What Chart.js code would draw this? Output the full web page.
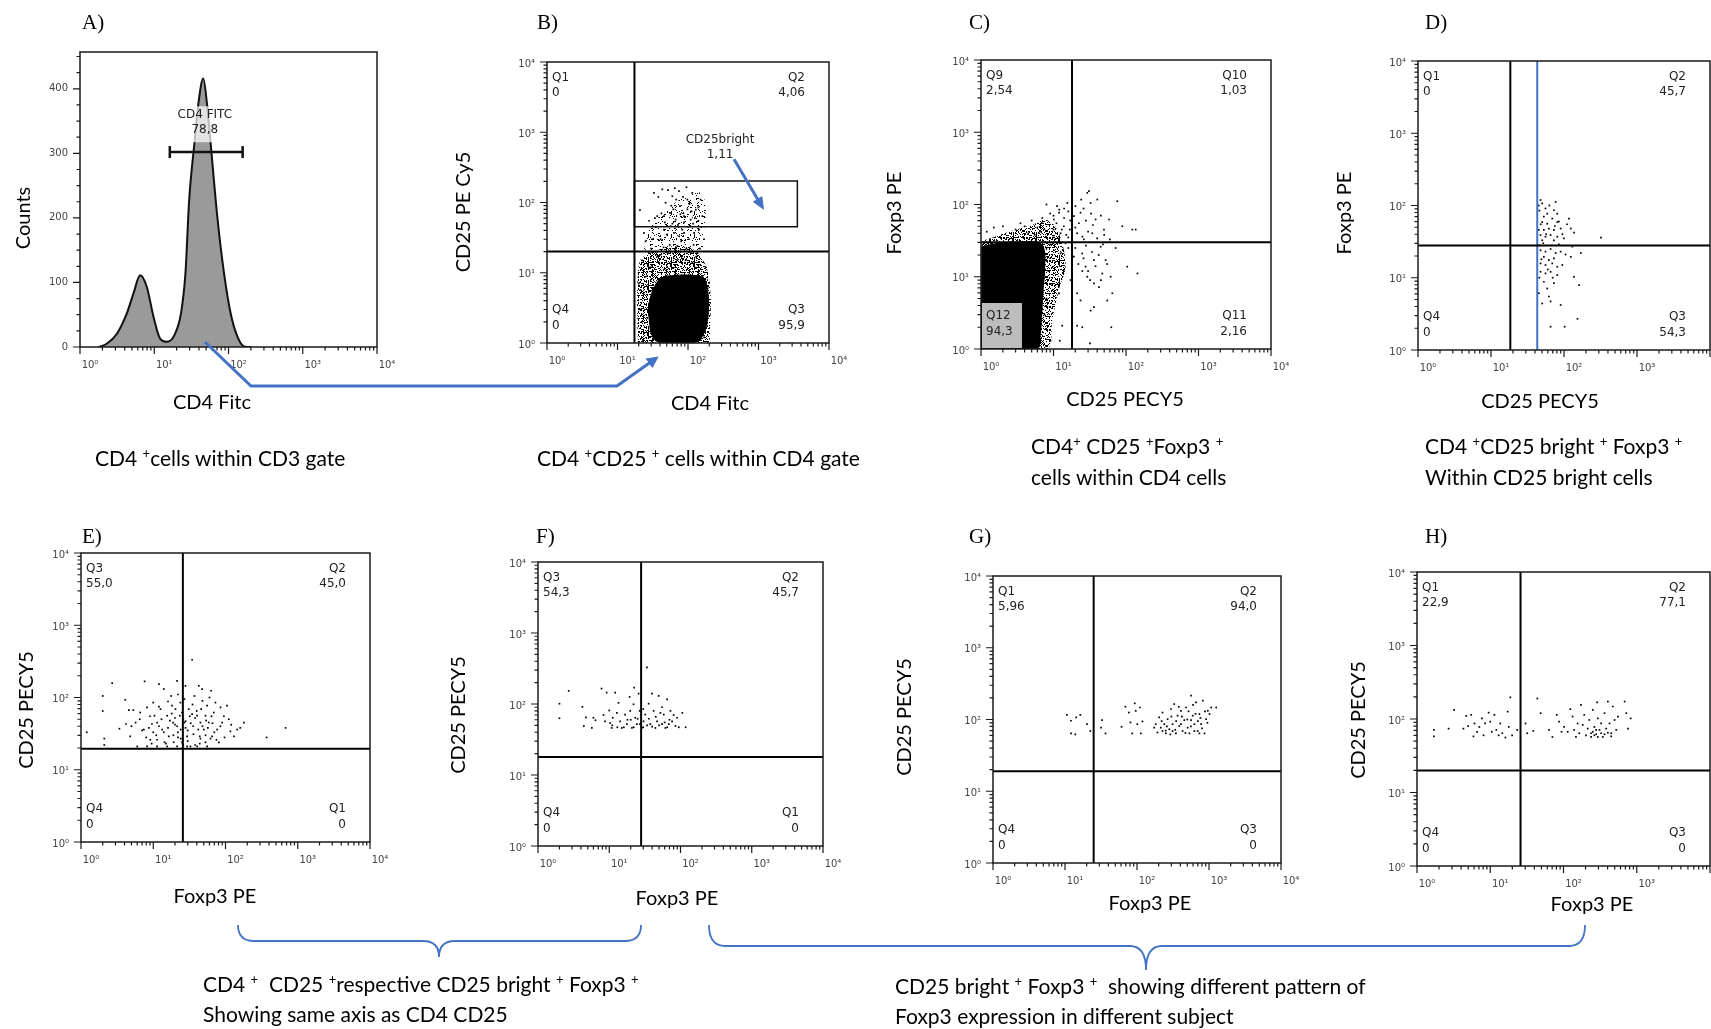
<!DOCTYPE html>
<html>
<head>
<meta charset="utf-8">
<title>CD4 / CD25 / Foxp3 gating</title>
<script src="https://cdn.jsdelivr.net/npm/chart.js@4.4.1/dist/chart.umd.min.js"></script>
<style>
  body { margin: 0; width: 1711px; height: 1029px; overflow: hidden; background: #fff; position: relative; font-family: Lato, "Open Sans", sans-serif; color: #000; }
  canvas { position: absolute; }
  svg { position: absolute; left: 0; top: 0; }
  .txt { position: absolute; white-space: nowrap; transform: translateY(-50%); font-size: 20px; line-height: 1; }
  .cap { font-size: 21px; }
  .letter { font-family: "Liberation Serif", "DejaVu Serif", serif; font-size: 21px; }
  .ctr { transform: translate(-50%, -50%); }
  .rot { transform: translate(-50%, -50%) rotate(-90deg); }
  sup { font-size: 0.62em; vertical-align: 0.55em; line-height: 0; }
</style>
</head>
<body>
<canvas id="chA"></canvas>
<canvas id="chB"></canvas>
<canvas id="chC"></canvas>
<canvas id="chD"></canvas>
<canvas id="chE"></canvas>
<canvas id="chF"></canvas>
<canvas id="chG"></canvas>
<canvas id="chH"></canvas>

<svg width="1711" height="1029">
  <defs>
    <marker id="tip" markerWidth="4" markerHeight="4" refX="2.5" refY="2" orient="auto">
      <path d="M0,0 L4,2 L0,4 z" fill="#4472C4"/>
    </marker>
  </defs>
  <polyline points="205,342 251,386 617,386 655,359" fill="none" stroke="#4472C4" stroke-width="3" marker-end="url(#tip)"/>
  <path d="M238,925 Q238,941 254,941 L423,941 Q439,941 439,957 Q439,941 455,941 L625,941 Q641,941 641,925" fill="none" stroke="#4472C4" stroke-width="1.8"/>
  <path d="M709,925 Q709,946 725,946 L1130,946 Q1146,946 1146,970 Q1146,946 1162,946 L1569,946 Q1585,946 1585,925" fill="none" stroke="#4472C4" stroke-width="1.8"/>
</svg>

<div class="txt letter" style="left:82px;top:22px">A)</div>
<div class="txt letter" style="left:537px;top:22px">B)</div>
<div class="txt letter" style="left:969px;top:22px">C)</div>
<div class="txt letter" style="left:1425px;top:22px">D)</div>
<div class="txt letter" style="left:82px;top:536px">E)</div>
<div class="txt letter" style="left:536px;top:536px">F)</div>
<div class="txt letter" style="left:969px;top:536px">G)</div>
<div class="txt letter" style="left:1425px;top:536px">H)</div>

<div class="txt rot" style="left:22px;top:218px">Counts</div>
<div class="txt ctr" style="left:212px;top:401px">CD4 Fitc</div>
<div class="txt rot" style="left:462px;top:212px">CD25 PE Cy5</div>
<div class="txt ctr" style="left:710px;top:402px">CD4 Fitc</div>
<div class="txt rot" style="left:893px;top:213px">Foxp3 PE</div>
<div class="txt ctr" style="left:1125px;top:398px">CD25 PECY5</div>
<div class="txt rot" style="left:1343px;top:213px">Foxp3 PE</div>
<div class="txt ctr" style="left:1540px;top:400px">CD25 PECY5</div>
<div class="txt rot" style="left:25px;top:710px">CD25 PECY5</div>
<div class="txt ctr" style="left:215px;top:895px">Foxp3 PE</div>
<div class="txt rot" style="left:457px;top:715px">CD25 PECY5</div>
<div class="txt ctr" style="left:677px;top:897px">Foxp3 PE</div>
<div class="txt rot" style="left:903px;top:717px">CD25 PECY5</div>
<div class="txt ctr" style="left:1150px;top:902px">Foxp3 PE</div>
<div class="txt rot" style="left:1357px;top:720px">CD25 PECY5</div>
<div class="txt ctr" style="left:1592px;top:903px">Foxp3 PE</div>

<div class="txt cap" style="left:95px;top:457px">CD4 <sup>+</sup>cells within CD3 gate</div>
<div class="txt cap" style="left:537px;top:457px">CD4 <sup>+</sup>CD25 <sup>+</sup> cells within CD4 gate</div>
<div class="txt cap" style="left:1031px;top:445px">CD4<sup>+</sup> CD25 <sup>+</sup>Foxp3 <sup>+</sup></div>
<div class="txt cap" style="left:1031px;top:476px">cells within CD4 cells</div>
<div class="txt cap" style="left:1425px;top:445px">CD4 <sup>+</sup>CD25 bright <sup>+</sup> Foxp3 <sup>+</sup></div>
<div class="txt cap" style="left:1425px;top:476px">Within CD25 bright cells</div>
<div class="txt cap" style="left:203px;top:983px">CD4 <sup>+</sup>&nbsp; CD25 <sup>+</sup>respective CD25 bright <sup>+</sup> Foxp3 <sup>+</sup></div>
<div class="txt cap" style="left:203px;top:1013px">Showing same axis as CD4 CD25</div>
<div class="txt cap" style="left:895px;top:985px">CD25 bright <sup>+</sup> Foxp3 <sup>+</sup>&nbsp; showing different pattern of</div>
<div class="txt cap" style="left:895px;top:1015px">Foxp3 expression in different subject</div>

<script>
// tick labels shared by all log axes
const decadeTicks = [1, 10, 100, 1000, 10000];
const decadeLabels = ['10⁰', '10¹', '10²', '10³', '10⁴'];
const countTicks = [0, 100, 200, 300, 400];

// A) CD4 FITC histogram
const aFluor = [1.78, 2.29, 3.16, 4.27, 5.25, 6.46, 7.94, 9.77, 12.0, 14.8, 18.6, 22.9, 26.3, 29.5, 34.7, 39.8, 45.7, 51.3, 57.5, 70.8, 87.1, 107, 132, 162, 200];
const aCounts = [0, 5, 21, 52, 83, 111, 93, 47, 13, 8, 18, 52, 114, 227, 315, 382, 416, 377, 315, 201, 114, 52, 16, 1, 0];
const aGate = [[16.2, 302], [155, 302]];
const aGateText = ['CD4 FITC', '78,8'];

// B) CD25 vs CD4
const bQuads = [['Q1', '0'], ['Q2', '4,06'], ['Q4', '0'], ['Q3', '95,9']];
const bCut = [17.4, 20];
const bBrightGate = [[17.4, 45], [3560, 45], [3560, 203], [17.4, 203], [17.4, 45]];
const bBrightText = ['CD25bright', '1,11'];
const bArrow = [[450, 414], [1200, 78]];
const bCore = [[31.1, 5.7], [40.8, 8.4], [63.1, 9.3], [122, 9.3], [169, 8.4], [192, 5.7], [199, 3.3], [188, 1.9], [160, 1.22], [122, 1.0], [40.8, 1.0], [31.1, 1.22], [27.8, 2.1], [27.8, 3.7], [31.1, 5.7]];
const bHalo = [[19.4, 1.0], [19.0, 5.7], [21.2, 15.3], [32.8, 20.1], [56.6, 23.7], [109, 22.5], [151, 17.1], [188, 11], [210, 4.6], [205, 1.7], [188, 1.0], [19.4, 1.0]];
const bHaloUpper = [[23.7, 21.3], [29.4, 45.8], [45.5, 71.3], [78.5, 111], [151, 138], [178, 88.7], [169, 41.1], [151, 21.3], [23.7, 21.3]];
const bDots = [[20.8, 78], [23.7, 37], [27.9, 19], [29.5, 12], [32.9, 137], [36.6, 64], [40.9, 30], [43.2, 154], [45.6, 41], [48.1, 99], [52, 19], [55.5, 71], [59.9, 123], [63.2, 37], [66.8, 57], [70.5, 24], [74.5, 145], [76.9, 89], [83, 41], [87.7, 64], [92.6, 15], [97.9, 110], [103, 30], [109, 57], [115, 137], [122, 37], [129, 79], [136, 19], [143, 41], [151, 110], [160, 64], [169, 30], [178, 12], [148, 22], [22.4, 15], [25, 8.8], [21.2, 5.7], [199, 7.1], [188, 5.1], [23.7, 1.4], [169, 1.2], [45.6, 64], [56.7, 46], [36.6, 17], [87.7, 37], [70.5, 15], [50.8, 12], [31.1, 30], [115, 14],
  [30, 22], [40, 18], [55, 25], [65, 20], [80, 28], [95, 22], [120, 25], [35, 45], [60, 50], [100, 45], [75, 33], [25, 28], [45, 23], [130, 17], [110, 20], [50, 35],
  [21, 3], [22, 2], [20, 7], [180, 3], [190, 6], [170, 2], [160, 9], [23, 1.1], [150, 1.1], [100, 1.05], [60, 1.05], [35, 1.1],
  [28, 55], [42, 70], [58, 90], [68, 110], [85, 120], [105, 95], [125, 60], [140, 85], [38, 120], [52, 150], [65, 160], [95, 165], [47, 52], [72, 48], [88, 52], [112, 75], [34, 60], [62, 80], [78, 68], [98, 80], [118, 50], [140, 55]];

// C) Foxp3 vs CD25 within CD4
const cQuads = [['Q9', '2,54'], ['Q10', '1,03'], ['Q12', '94,3'], ['Q11', '2,16']];
const cCut = [18, 30];
const cCore = [[1.0, 26.2], [1.58, 29.2], [2.98, 30.7], [5.6, 30.7], [7.3, 26.2], [7.7, 13.8], [7.3, 6.5], [7.0, 3.1], [6.6, 1.45], [5.9, 1.0], [1.0, 1.0], [1.0, 26.2]];
const cHalo = [[1.0, 30.7], [1.58, 36.1], [2.98, 44.8], [5.1, 52.5], [7.7, 61.7], [10.6, 49.8], [13.2, 29.2], [14.7, 13.8], [11.8, 6.5], [9.6, 2.5], [8.2, 1.0], [1.0, 1.0], [1.0, 30.7]];
const cDots = [[10.1, 62], [11.2, 95], [11.9, 77], [12.5, 40], [13.9, 50], [14.7, 29], [15.5, 105], [16.8, 45], [19.1, 69], [20.1, 95], [21.2, 40], [22.4, 55], [23.6, 77], [24.1, 117], [24.9, 21], [26.2, 33], [27.7, 13.8], [29.2, 145], [30.8, 153], [32.5, 105], [34.3, 40], [36.1, 17], [38.1, 62], [40.2, 117], [42.4, 7.2], [44.7, 26], [47.1, 11.1], [49.7, 45], [52.4, 17], [55.2, 4.7], [58.2, 62], [61.4, 10], [64.7, 5.9], [71.9, 25], [75.9, 111], [88.9, 50], [104, 13.8], [122, 45], [144, 11.1], [136, 45], [21.2, 5.9], [23.6, 4.7], [29.2, 10], [36.1, 8.1], [32.5, 3.4], [19.1, 19], [17.2, 9], [13.2, 2.1], [21.2, 2.1], [24.9, 2.0], [36.1, 3.8], [62.7, 2.0], [31.8, 1.2], [12.2, 1.3], [9.1, 1.3], [12.5, 21], [13.9, 12.4], [11.9, 5.9],
  [18, 35], [20, 48], [25, 36], [28, 60], [30, 42], [35, 52], [40, 34], [45, 70], [26, 88], [33, 75], [50, 38], [60, 33], [17, 60], [16, 80], [14, 65], [9, 75], [8, 100], [7, 55], [6, 48], [5, 60], [4, 50], [3, 45], [10, 45], [12, 34],
  [20, 25], [22, 15], [26, 18], [30, 12], [34, 22], [38, 14], [42, 20], [48, 28], [55, 15], [28, 27], [32, 9], [45, 9], [25, 12], [18, 14], [16, 25],
  [8, 25], [9, 18], [8.5, 12], [9.5, 8], [8, 5], [7.5, 3], [9, 28], [10, 35], [6.5, 42], [2, 50], [1.5, 48], [3.5, 55], [1.2, 42],
  [11, 55], [13, 45], [15, 38], [10, 70], [12, 85], [7, 65], [5.5, 38], [4.5, 40], [14, 88], [16, 35]];

// D) Foxp3 vs CD25 within CD25 bright
const dQuads = [['Q1', '0'], ['Q2', '45,7'], ['Q4', '0'], ['Q3', '54,3']];
const dCut = [18.4, 28];
const dBrightCut = 43;
const dDots = [[47.7, 119], [50.3, 107], [76.8, 112], [55.8, 91], [58.9, 77], [72.8, 86], [80.9, 77], [53, 70], [69.1, 66], [50.3, 59], [58.9, 56], [80.9, 59], [117, 66], [45.2, 46], [53, 46], [62.1, 48], [72.8, 46], [90, 48], [124, 48], [137, 42], [47.7, 39], [55.8, 37], [65.5, 39], [80.9, 37], [100, 35], [50.3, 33], [72.8, 33], [321, 36], [130, 27], [47.7, 24], [55.8, 23], [65.5, 25], [76.8, 22], [90, 23], [105, 21], [170, 22], [53, 19.5], [62.1, 17.5], [72.8, 18.5], [124, 19.5], [47.7, 15.8], [55.8, 15], [69.1, 15.8], [80.9, 14.2], [94.8, 15], [47.7, 12.1], [55.8, 11.5], [65.5, 12.1], [80.9, 10.9], [137, 10.3], [53, 8.8], [72.8, 8.4], [161, 7.9], [45.2, 6.1], [58.9, 7.1], [62.1, 5.5], [50.3, 4.4], [65.5, 4.7], [90, 4.2], [153, 2.7], [65.5, 2.1], [102, 2.1],
  [46, 85], [48, 55], [52, 30], [46, 28], [49, 18], [57, 40], [63, 100], [68, 28], [75, 52], [85, 29], [95, 40], [110, 55], [46, 10], [60, 13], [70, 10], [45, 100], [85, 60]];

// E) CD25 vs Foxp3 (CD4+ CD25+)
const eQuads = [['Q3', '55,0'], ['Q2', '45,0'], ['Q4', '0'], ['Q1', '0']];
const eCut = [25.7, 19.6];
const eDots = [[1.2, 33], [2.0, 105], [2.0, 65], [2.1, 27], [2.1, 22], [2.7, 158], [3.4, 37], [4.1, 93], [4.2, 43], [4.6, 67], [4.8, 29], [5.3, 67], [5.7, 45], [6.0, 21], [6.6, 62], [7.6, 167], [8.2, 73], [8.7, 38], [9.1, 26], [10, 85], [10.4, 56], [11.3, 45], [12, 153], [12.6, 69], [13.3, 36], [14, 131], [14.3, 24], [15.6, 56], [16.4, 29], [17.7, 105], [18.8, 45], [19.2, 24], [20.3, 69], [21.4, 170], [21.9, 33], [23.3, 56], [23.8, 85], [25.1, 24], [27, 45], [27.9, 145], [29.4, 29], [31, 69], [32.7, 21], [34.5, 333], [35.6, 40], [37.2, 105], [40.5, 56], [42.7, 145], [44, 29], [46, 69], [47.5, 131], [50, 36], [52.8, 24], [55.7, 77], [58.7, 45], [63.3, 124], [65.3, 29], [68.9, 62], [72.6, 85], [76.7, 36], [80.9, 24], [85.3, 73], [90, 45], [96.9, 28], [105, 77], [111, 50], [117, 34], [131, 29], [145, 36], [180, 45], [370, 28], [678, 38],
  [8.2, 21], [11.3, 21], [15.6, 21], [21.4, 21], [29.4, 21], [40.5, 21], [55.7, 21], [11.3, 26], [7.4, 36], [9.6, 43], [18.2, 77], [21.4, 40], [34.5, 59], [45, 45], [52.8, 56],
  [12, 40], [14, 33], [16, 38], [17, 48], [19, 30], [20, 42], [22, 28], [24, 36], [26, 50], [28, 38], [30, 25], [33, 44], [36, 31], [38, 52], [42, 36], [44, 23], [48, 40], [53, 30], [57, 38], [62, 27], [66, 44], [70, 33], [75, 26], [11, 30], [13, 50], [15, 23], [9, 55], [8, 28], [6.5, 50], [7, 35], [5, 40], [18, 60], [25, 62], [32, 55], [40, 65], [35, 80], [27, 95], [22, 110], [48, 90], [60, 100], [16, 88], [12, 75], [10, 33], [9.5, 23], [26, 22], [38, 22], [45, 27], [54, 48], [64, 55], [85, 40], [95, 55], [120, 42], [160, 38], [30, 35], [28, 47], [24, 27], [20, 52]];

// F) CD25 bright vs Foxp3
const fQuads = [['Q3', '54,3'], ['Q2', '45,7'], ['Q4', '0'], ['Q1', '0']];
const fCut = [28, 18];
const fDots = [[2.0, 101], [2.0, 63], [2.7, 153], [4.2, 91], [4.4, 49], [4.7, 65], [5.7, 46], [6.0, 64], [6.4, 59], [7.8, 165], [8.3, 70], [8.7, 57], [9.2, 145], [10, 81], [10.3, 54], [10.8, 46], [11.2, 64], [12.1, 145], [12.8, 75], [13.5, 104], [14.2, 57], [15, 46], [16.7, 71], [17.7, 52], [19.3, 126], [19.7, 80], [20.8, 46], [21.9, 99], [22.4, 170], [23.2, 64], [24.4, 52], [25.8, 140], [26.7, 80], [28.8, 46], [30.3, 57], [32, 71], [33.8, 327], [35.7, 101], [37.7, 52], [39.8, 140], [42, 80], [44.4, 46], [46.9, 57], [49.4, 130], [52.2, 75], [55.1, 52], [58.2, 71], [61.4, 46], [64.9, 116], [68.4, 52], [72.3, 80], [76.2, 57], [85, 49], [89.7, 64], [94.7, 47], [106, 75], [118, 47],
  [11, 50], [13, 47], [16, 47], [18, 60], [22, 47], [25, 62], [27, 52], [30, 47], [34, 50], [36, 62], [40, 48], [45, 66], [50, 50], [60, 55], [70, 60], [80, 70], [65, 47], [55, 90], [30, 85], [20, 60]];

// G) subject with high Foxp3
const gQuads = [['Q1', '5,96'], ['Q2', '94,0'], ['Q4', '0'], ['Q3', '0']];
const gCut = [25, 19];
const gDots = [[10.6, 116], [12.1, 96], [14.3, 107], [16.3, 116], [12.1, 64], [13.9, 62], [20.2, 86], [22.5, 69], [32.7, 98], [31.7, 77], [36.5, 64], [61, 79], [69, 151], [77, 125], [81, 91], [86, 64], [93, 168], [96, 132], [101, 86], [110, 147], [113, 64], [119, 94], [182, 86], [192, 66], [203, 107], [214, 77], [226, 125], [239, 86], [252, 64], [266, 101], [281, 73], [296, 140], [312, 86], [329, 164], [347, 64], [366, 113], [387, 81], [408, 132], [430, 69], [454, 98], [480, 147], [506, 77], [534, 64], [563, 215], [594, 113], [627, 86], [661, 173], [698, 69], [736, 119], [777, 86], [820, 183], [865, 64], [913, 101], [963, 132], [1016, 119], [1072, 147], [1259, 147], [173, 77], [226, 69], [312, 69], [408, 86], [563, 98], [627, 69], [736, 64],
  [220, 95], [260, 80], [300, 110], [350, 95], [420, 110], [500, 100], [560, 80], [650, 120], [700, 95], [800, 75], [250, 70], [340, 72], [470, 65], [600, 160], [520, 130], [380, 150], [290, 62], [760, 105], [880, 130], [950, 90]];

// H) subject with mixed Foxp3
const hQuads = [['Q1', '22,9'], ['Q2', '77,1'], ['Q4', '0'], ['Q3', '0']];
const hCut = [25.9, 19.9];
const hDots = [[1.7, 71], [1.7, 58], [2.7, 74], [3.2, 133], [4.3, 74], [4.7, 110], [5.0, 80], [5.5, 114], [5.9, 58], [6.1, 87], [6.6, 67], [7.1, 78], [7.7, 102], [8.1, 60], [8.5, 87], [9.5, 122], [10, 92], [10.5, 67], [11.4, 114], [12.1, 71], [13, 60], [13.7, 87], [14.6, 64], [16.1, 56], [17.3, 126], [17.9, 78], [18.8, 197], [19.9, 60], [23.3, 71], [30.3, 87], [32, 64], [38.7, 69], [43.9, 190], [48.8, 120], [63.5, 71], [70.6, 57], [81, 114], [87, 92], [94, 67], [102, 78], [114, 67], [124, 136], [133, 108], [140, 71], [148, 57], [156, 87], [164, 64], [173, 156], [183, 83], [192, 114], [203, 60], [214, 74], [225, 97], [238, 64], [251, 133], [264, 78], [279, 62], [288, 168], [294, 102], [310, 71], [326, 87], [344, 57], [363, 120], [383, 74], [403, 173], [425, 87], [448, 64], [472, 148], [498, 97], [525, 71], [553, 108], [684, 173], [721, 120], [760, 74], [826, 102], [238, 57], [264, 60], [294, 57], [326, 64], [363, 62], [403, 65], [448, 58], [251, 67], [279, 71]];

// plot frames on the page: left, top, right, bottom of each chart area
const frames = {
  A: { l: 80, t: 52, r: 377, b: 347 },
  B: { l: 547, t: 62, r: 829, b: 343 },
  C: { l: 981, t: 60, r: 1271, b: 349 },
  D: { l: 1418, t: 61, r: 1710, b: 350 },
  E: { l: 81, t: 553, r: 370, b: 842 },
  F: { l: 538, t: 562, r: 823, b: 846 },
  G: { l: 993, t: 576, r: 1281, b: 863 },
  H: { l: 1417, t: 572, r: 1710, b: 866 }
};

const BLUE = '#4472C4';
const pts = arr => arr.map(([x, y]) => ({ x, y }));

// grainy texture for the speckled fringe of the dense populations
function speckle(pct) {
  const n = 23;
  const tile = document.createElement('canvas');
  tile.width = tile.height = n;
  const c = tile.getContext('2d');
  c.fillStyle = '#000';
  for (let i = 0; i < n; i++) {
    for (let j = 0; j < n; j++) {
      const h = ((i * 2654435761) ^ (j * 40503 + i * j * 977)) >>> 0;
      if (h % 100 < pct) c.fillRect(i, j, 1, 1);
    }
  }
  return c.createPattern(tile, 'repeat');
}

const dots = arr => ({
  data: pts(arr), showLine: false,
  pointStyle: 'rect', pointRadius: 1.2, backgroundColor: '#000', borderWidth: 0
});

const cloud = (arr, fillStyle, tension = 0.3) => ({
  data: pts(arr), showLine: true, fill: 'shape', tension,
  backgroundColor: fillStyle, borderColor: 'rgba(0,0,0,0)', borderWidth: 1, pointRadius: 0
});

const rule = (arr, color = '#000', width = 2) => ({
  data: pts(arr), showLine: true, fill: false,
  borderColor: color, borderWidth: width, pointRadius: 0
});

const quadLines = ([cx, cy]) => [
  rule([[cx, 1], [cx, 10000]]),
  rule([[1, cy], [10000, cy]])
];

// keep the axis boxes a fixed size so the plot area lands where it should
const fixX = s => { s.height = 34; s.paddingLeft = 0; s.paddingRight = 0; };
const fixY = s => { s.width = 60; s.paddingTop = 0; s.paddingBottom = 0; };

function logAxis(isX) {
  return {
    type: 'logarithmic', min: 1, max: 10000,
    afterBuildTicks: s => { s.ticks = decadeTicks.map(v => ({ value: v })); },
    ticks: {
      autoSkip: false, maxRotation: 0, color: '#444',
      font: { family: 'DejaVu Sans', size: 10 },
      padding: 12,
      labelOffset: isX ? 10 : 2,
      callback: v => decadeLabels[decadeTicks.indexOf(v)]
    },
    grid: { display: false, drawTicks: false },
    border: { display: false },
    afterFit: isX ? fixX : fixY
  };
}

const countAxis = {
  type: 'linear', min: 0, max: 457,
  afterBuildTicks: s => { s.ticks = countTicks.map(v => ({ value: v })); },
  ticks: {
    color: '#444', font: { family: 'DejaVu Sans', size: 10 }, padding: 12,
    callback: v => String(v)
  },
  grid: { display: false, drawTicks: false },
  border: { display: false },
  afterFit: fixY
};

// frame, tick marks, quadrant labels, gate labels and arrows
function makeDecor(d) {
  return {
    id: 'flowDecor',
    afterDatasetsDraw(chart) {
      const { ctx, chartArea: a } = chart;
      const sx = chart.scales.x, sy = chart.scales.y;
      ctx.save();

      ctx.strokeStyle = '#1a1a1a';
      ctx.lineWidth = 1.5;
      ctx.strokeRect(a.left, a.top, a.right - a.left, a.bottom - a.top);

      ctx.lineWidth = 1.2;
      ctx.beginPath();
      for (let dec = 1; dec <= 10000; dec *= 10) {
        for (let m = 1; m <= 9 && dec * m <= 10000; m++) {
          const len = m === 1 ? 7 : 3.5;
          const px = sx.getPixelForValue(dec * m);
          ctx.moveTo(px, a.bottom);
          ctx.lineTo(px, a.bottom + len);
          if (!d.countAxis) {
            const py = sy.getPixelForValue(dec * m);
            ctx.moveTo(a.left, py);
            ctx.lineTo(a.left - len, py);
          }
        }
      }
      if (d.countAxis) {
        for (let v = 0; v <= 450; v += 25) {
          const py = sy.getPixelForValue(v);
          ctx.moveTo(a.left, py);
          ctx.lineTo(a.left - (v % 100 ? 3.5 : 7), py);
        }
      }
      ctx.stroke();

      ctx.font = "12px 'DejaVu Sans'";
      ctx.textBaseline = 'middle';

      if (d.quads) {
        const [tl, tr, bl, br] = d.quads;
        if (d.quadBg) {
          ctx.fillStyle = 'rgba(255,255,255,0.74)';
          ctx.fillRect(a.left + 1, a.bottom - 46, 40, 45);
        }
        ctx.fillStyle = '#222';
        ctx.textAlign = 'left';
        ctx.fillText(tl[0], a.left + 5, a.top + 16);
        ctx.fillText(tl[1], a.left + 5, a.top + 31);
        ctx.fillText(bl[0], a.left + 5, a.bottom - 33);
        ctx.fillText(bl[1], a.left + 5, a.bottom - 17.5);
        ctx.textAlign = 'right';
        ctx.fillText(tr[0], a.right - 24, a.top + 16);
        ctx.fillText(tr[1], a.right - 24, a.top + 31);
        ctx.fillText(br[0], a.right - 24, a.bottom - 33);
        ctx.fillText(br[1], a.right - 24, a.bottom - 17.5);
      }

      (d.notes || []).forEach(n => {
        const px = sx.getPixelForValue(n.x);
        const py = sy.getPixelForValue(n.y);
        ctx.textAlign = 'center';
        if (n.bg) {
          const w = Math.max(...n.lines.map(t => ctx.measureText(t).width));
          ctx.fillStyle = 'rgba(255,255,255,0.72)';
          ctx.fillRect(px - w / 2, py - 9, w, n.lines.length * 15 + 6);
        }
        ctx.fillStyle = '#222';
        n.lines.forEach((t, i) => ctx.fillText(t, px, py + i * 15));
      });

      (d.arrows || []).forEach(([p, q]) => {
        const x1 = sx.getPixelForValue(p[0]), y1 = sy.getPixelForValue(p[1]);
        const x2 = sx.getPixelForValue(q[0]), y2 = sy.getPixelForValue(q[1]);
        const ang = Math.atan2(y2 - y1, x2 - x1);
        const c = Math.cos(ang), s = Math.sin(ang);
        ctx.strokeStyle = BLUE;
        ctx.fillStyle = BLUE;
        ctx.lineWidth = 3;
        ctx.beginPath();
        ctx.moveTo(x1, y1);
        ctx.lineTo(x2 - 8 * c, y2 - 8 * s);
        ctx.stroke();
        ctx.beginPath();
        ctx.moveTo(x2, y2);
        ctx.lineTo(x2 - 13 * c + 5.5 * s, y2 - 13 * s - 5.5 * c);
        ctx.lineTo(x2 - 13 * c - 5.5 * s, y2 - 13 * s + 5.5 * c);
        ctx.closePath();
        ctx.fill();
      });

      ctx.restore();
    }
  };
}

function flowChart(id, box, datasets, decor, yAxis) {
  const cv = document.getElementById(id);
  const w = box.r - box.l + 84, h = box.b - box.t + 46;
  cv.width = w;
  cv.height = h;
  Object.assign(cv.style, {
    left: (box.l - 60) + 'px', top: (box.t - 12) + 'px',
    width: w + 'px', height: h + 'px'
  });
  return new Chart(cv, {
    type: 'scatter',
    data: { datasets },
    options: {
      responsive: false,
      animation: false,
      events: [],
      layout: { padding: { top: 12, right: 24, left: 0, bottom: 0 } },
      plugins: { legend: { display: false }, tooltip: { enabled: false } },
      scales: { x: logAxis(true), y: yAxis || logAxis(false) }
    },
    plugins: [makeDecor(decor)]
  });
}

// A
flowChart('chA', frames.A, [
  {
    data: pts(aGate), showLine: true, fill: false,
    borderColor: '#111', borderWidth: 2.5,
    pointStyle: 'line', rotation: 90, pointRadius: 6,
    pointBorderColor: '#111', pointBorderWidth: 2.5
  },
  {
    data: aFluor.map((x, i) => ({ x, y: aCounts[i] })),
    showLine: true, fill: 'origin', cubicInterpolationMode: 'monotone',
    backgroundColor: '#9a9a9a', borderColor: '#111', borderWidth: 2, pointRadius: 0
  }
], { countAxis: true, notes: [{ x: 48, y: 359, lines: aGateText, bg: true }] }, countAxis);

// B
flowChart('chB', frames.B, [
  ...quadLines(bCut),
  rule(bBrightGate, '#111', 1.5),
  dots(bDots),
  cloud(bCore, '#000', 0.4),
  cloud(bHalo, speckle(38)),
  cloud(bHaloUpper, speckle(12))
], { quads: bQuads, notes: [{ x: 285, y: 780, lines: bBrightText }], arrows: [bArrow] });

// C
flowChart('chC', frames.C, [
  ...quadLines(cCut),
  dots(cDots),
  cloud(cCore, '#000', 0.4),
  cloud(cHalo, speckle(34))
], { quads: cQuads, quadBg: true });

// D
flowChart('chD', frames.D, [
  ...quadLines(dCut),
  rule([[dBrightCut, 1], [dBrightCut, 10000]], BLUE, 2),
  dots(dDots)
], { quads: dQuads });

// E
flowChart('chE', frames.E, [...quadLines(eCut), dots(eDots)], { quads: eQuads });

// F
flowChart('chF', frames.F, [...quadLines(fCut), dots(fDots)], { quads: fQuads });

// G
flowChart('chG', frames.G, [...quadLines(gCut), dots(gDots)], { quads: gQuads });

// H
flowChart('chH', frames.H, [...quadLines(hCut), dots(hDots)], { quads: hQuads });
</script>
</body>
</html>
